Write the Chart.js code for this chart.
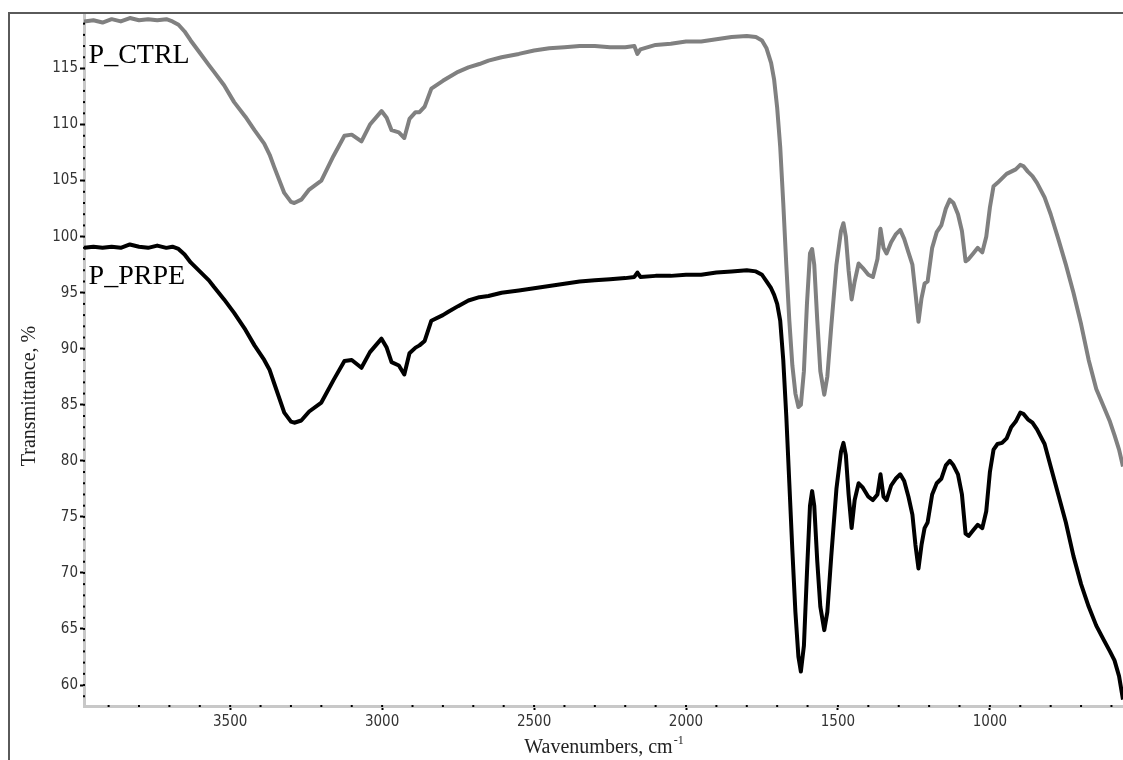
<!DOCTYPE html>
<html>
<head>
<meta charset="utf-8">
<script src="https://cdn.jsdelivr.net/npm/chart.js@4.4.1/dist/chart.umd.min.js"></script>
<style>
  html, body { margin: 0; padding: 0; background: #fff; }
</style>
</head>
<body>
<canvas id="ftir" width="1123" height="760"></canvas>
<script>
// wavenumbers (cm-1), shared by both spectra
const wavenumbers = [
  3981, 3950, 3920, 3890, 3860, 3830, 3800, 3770, 3740, 3710, 3690, 3670, 3650, 3630, 3600,
  3570, 3553, 3520, 3487, 3450, 3420, 3388, 3370, 3355, 3322, 3300, 3289, 3266, 3240, 3200,
  3160, 3124, 3100, 3068, 3040, 3002, 2985, 2969, 2945, 2927, 2910, 2890, 2877, 2860, 2838,
  2800, 2782, 2750, 2716, 2680, 2650, 2607, 2550, 2500, 2450, 2400, 2350, 2300, 2250, 2200,
  2170, 2160, 2150, 2100, 2050, 2000, 1950, 1900, 1850, 1800, 1770, 1750, 1735, 1720, 1710,
  1700, 1690, 1680, 1670, 1660, 1650, 1640, 1630, 1622, 1612, 1602, 1592, 1585, 1578, 1568,
  1558, 1545, 1535, 1522, 1505, 1490, 1482, 1474, 1465, 1455, 1445, 1432, 1418, 1400, 1385,
  1370, 1360, 1350, 1340, 1325, 1310, 1295, 1282, 1268, 1255, 1245, 1235, 1225, 1215, 1205,
  1190, 1175, 1160, 1145, 1132, 1120, 1105, 1092, 1080, 1070, 1055, 1040, 1025, 1012, 1000,
  988, 975, 960, 945, 930, 915, 900, 890, 875, 860, 845, 820, 800, 775, 750,
  725, 700, 675, 650, 625, 605, 590, 575, 562
];

// transmittance, %
const ctrl = [
  119.2, 119.3, 119.1, 119.4, 119.2, 119.5, 119.3, 119.4, 119.3, 119.4, 119.2, 118.9, 118.3, 117.5, 116.4,
  115.3, 114.7, 113.5, 112.0, 110.7, 109.5, 108.3, 107.3, 106.2, 103.9, 103.1, 103.0, 103.3, 104.2, 105.0,
  107.2, 109.0, 109.1, 108.5, 110.0, 111.2, 110.6, 109.5, 109.3, 108.8, 110.5, 111.1, 111.1, 111.6, 113.2,
  113.9, 114.2, 114.7, 115.1, 115.4, 115.7, 116.0, 116.3, 116.6, 116.8, 116.9, 117.0, 117.0, 116.9, 116.9,
  117.0, 116.3, 116.7, 117.1, 117.2, 117.4, 117.4, 117.6, 117.8, 117.9, 117.8, 117.5, 116.8, 115.5, 114.0,
  111.5, 108.0, 103.0, 97.5, 92.5, 88.5, 86.0, 84.8, 85.0, 88.0, 94.0, 98.5, 98.9, 97.5, 92.5,
  88.0, 85.9, 87.5, 92.0, 97.5, 100.5, 101.2, 100.0, 97.0, 94.4, 96.0, 97.6, 97.2, 96.6, 96.4,
  98.0, 100.7, 99.0, 98.5, 99.5, 100.2, 100.6, 99.8, 98.6, 97.5, 95.0, 92.4, 94.5, 95.8, 96.0,
  99.0, 100.4, 101.0, 102.5, 103.3, 103.0, 102.0, 100.5, 97.8, 98.0, 98.5, 99.0, 98.6, 100.0, 102.6,
  104.5, 104.8, 105.2, 105.6, 105.8, 106.0, 106.4, 106.3, 105.8, 105.4, 104.8, 103.5, 102.0, 99.8, 97.5,
  95.0, 92.2, 89.0, 86.4, 84.8, 83.5, 82.3, 81.0, 79.5
];

const prpe = [
  99.0, 99.1, 99.0, 99.1, 99.0, 99.3, 99.1, 99.0, 99.2, 99.0, 99.1, 98.9, 98.4, 97.7, 96.9,
  96.1, 95.5, 94.4, 93.2, 91.7, 90.3, 89.0, 88.1, 86.9, 84.3, 83.5, 83.4, 83.6, 84.4, 85.2,
  87.2, 88.9, 89.0, 88.3, 89.7, 90.9, 90.1, 88.8, 88.5, 87.7, 89.6, 90.1, 90.3, 90.7, 92.5,
  93.0, 93.3, 93.8, 94.3, 94.6, 94.7, 95.0, 95.2, 95.4, 95.6, 95.8, 96.0, 96.1, 96.2, 96.3,
  96.4, 96.8, 96.4, 96.5, 96.5, 96.6, 96.6, 96.8, 96.9, 97.0, 96.9, 96.6, 96.0, 95.4, 94.8,
  94.0, 92.5, 89.0, 84.0, 78.0, 72.0, 66.5, 62.5, 61.2, 63.5, 70.0, 76.0, 77.3, 76.0, 71.0,
  67.0, 64.9, 66.5, 71.5, 77.5, 80.8, 81.6, 80.5, 77.0, 74.0, 76.5, 78.0, 77.6, 76.8, 76.5,
  77.0, 78.8, 76.8, 76.5, 77.8, 78.4, 78.8, 78.2, 76.8, 75.2, 72.5, 70.4, 72.5, 74.0, 74.5,
  77.0, 78.0, 78.4, 79.6, 80.0, 79.6, 78.8, 77.0, 73.5, 73.3, 73.8, 74.3, 74.0, 75.5, 79.0,
  81.0, 81.5, 81.6, 82.0, 83.0, 83.5, 84.3, 84.2, 83.7, 83.4, 82.8, 81.5, 79.5, 77.0, 74.5,
  71.5, 69.0, 67.0, 65.3, 64.0, 63.0, 62.2, 60.8, 58.7
];

const seriesNames = ['P_CTRL', 'P_PRPE'];
const seriesColors = ['#808080', '#000000'];
// where the series names sit (wavenumber, transmittance of the text baseline)
const labelWn = [3966, 3966];
const labelVal = [115.5, 95.8];

const xTitle = 'Wavenumbers, cm';
const xTitleSup = '-1';
const yTitle = 'Transmittance, %';

const tickFont = { family: "'DejaVu Sans Condensed', 'Liberation Sans', sans-serif", size: 15 };
const isMajor = (v, step) => Math.abs(v - Math.round(v / step) * step) < 1e-6;

const decor = {
  id: 'decor',
  afterDraw(chart) {
    const { ctx, chartArea: a, scales: { x, y } } = chart;
    ctx.save();
    // outer frame
    ctx.strokeStyle = '#5a5a5a';
    ctx.lineWidth = 2;
    ctx.beginPath();
    ctx.moveTo(9, 760);
    ctx.lineTo(9, 13);
    ctx.lineTo(1123, 13);
    ctx.stroke();

    // minor tick dots on the axis lines
    ctx.fillStyle = '#000';
    y.ticks.forEach(t => {
      const py = y.getPixelForValue(t.value);
      ctx.fillRect(a.left - 1, py - 1, 2, 2);
    });
    x.ticks.forEach(t => {
      const px = x.getPixelForValue(t.value);
      ctx.fillRect(px - 1, a.bottom - 1, 2, 2);
    });

    // series names
    ctx.font = '28px "Liberation Serif", serif';
    ctx.textAlign = 'left';
    ctx.textBaseline = 'alphabetic';
    seriesNames.forEach((n, i) => {
      ctx.fillText(n, x.getPixelForValue(labelWn[i]), y.getPixelForValue(labelVal[i]));
    });

    // axis titles
    ctx.fillStyle = '#222';
    ctx.font = '20px "Liberation Serif", serif';
    const mainW = ctx.measureText(xTitle).width;
    ctx.font = '12px "Liberation Serif", serif';
    const supW = ctx.measureText(xTitleSup).width;
    const x0 = (a.left + a.right) / 2 - (mainW + supW) / 2;
    ctx.font = '20px "Liberation Serif", serif';
    ctx.fillText(xTitle, x0, 753);
    ctx.font = '12px "Liberation Serif", serif';
    ctx.fillText(xTitleSup, x0 + mainW + 1, 744);

    ctx.font = '20px "Liberation Serif", serif';
    ctx.textAlign = 'center';
    ctx.textBaseline = 'middle';
    ctx.translate(30, 396);
    ctx.rotate(-Math.PI / 2);
    ctx.fillText(yTitle, 0, 0);
    ctx.restore();
  }
};

new Chart(document.getElementById('ftir'), {
  type: 'line',
  data: {
    datasets: seriesNames.map((name, i) => ({
      label: name,
      data: wavenumbers.map((w, k) => ({ x: w, y: (i === 0 ? ctrl : prpe)[k] })),
      borderColor: seriesColors[i],
      borderWidth: 4,
      borderJoinStyle: 'round',
      pointRadius: 0,
      tension: 0,
      order: i === 0 ? 1 : 0,
    })),
  },
  options: {
    responsive: false,
    animation: false,
    devicePixelRatio: 1,
    layout: { padding: { top: 13, left: 0, right: 0, bottom: 0 } },
    plugins: {
      legend: { display: false },
      tooltip: { enabled: false },
    },
    scales: {
      x: {
        type: 'linear',
        reverse: true,
        min: 562,
        max: 3981,
        afterFit: s => { s.height = 54; },
        border: { color: '#c8c8c8', width: 3 },
        grid: {
          drawOnChartArea: false,
          tickLength: 4,
          tickWidth: 2,
          tickColor: c => (c.tick && isMajor(c.tick.value, 500) ? '#000' : 'rgba(0,0,0,0)'),
        },
        ticks: {
          stepSize: 100,
          includeBounds: false,
          autoSkip: false,
          maxRotation: 0,
          padding: 3,
          color: '#333',
          font: tickFont,
          callback: v => (isMajor(v, 500) ? v : ''),
        },
      },
      y: {
        min: 58.13,
        max: 119.95,
        afterFit: s => { s.width = 84; },
        border: { color: '#c8c8c8', width: 3 },
        grid: {
          drawOnChartArea: false,
          tickLength: 4,
          tickWidth: 2,
          tickColor: c => (c.tick && isMajor(c.tick.value, 5) ? '#000' : 'rgba(0,0,0,0)'),
        },
        ticks: {
          stepSize: 1,
          includeBounds: false,
          autoSkip: false,
          padding: 2,
          color: '#333',
          font: tickFont,
          callback: v => (isMajor(v, 5) ? Math.round(v) : ''),
        },
      },
    },
  },
  plugins: [decor],
});
</script>
</body>
</html>
